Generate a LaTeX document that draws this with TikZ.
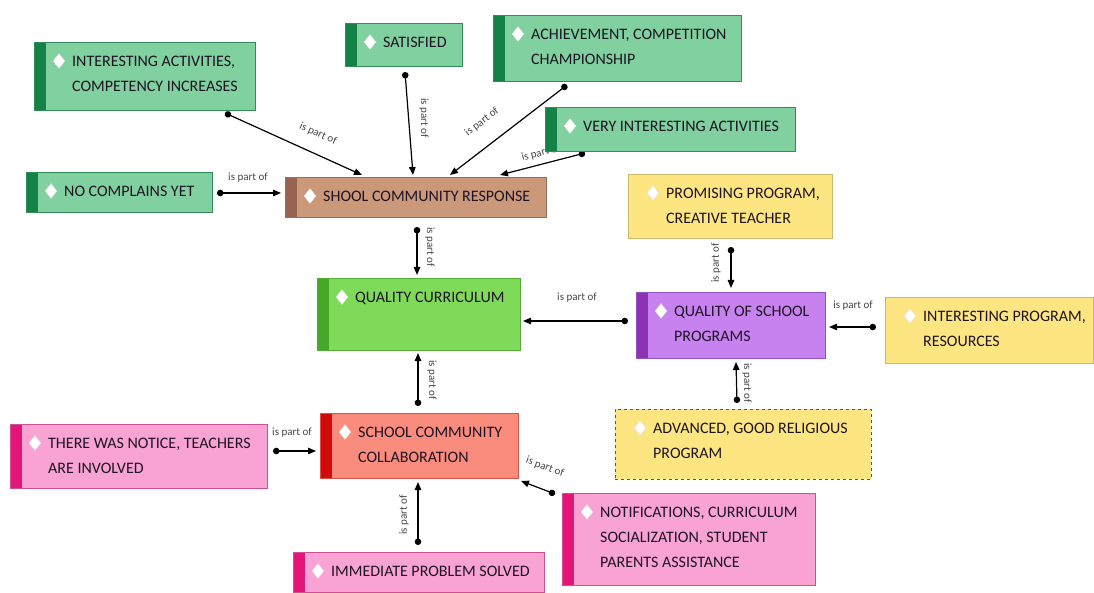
\documentclass[tikz,border=0pt]{standalone}
\usepackage{fontspec}
\setmainfont{Carlito}
\usetikzlibrary{arrows.meta,calc,shapes.geometric}
\pgfdeclarelayer{background}
\pgfsetlayers{background,main}

\definecolor{gfill}{RGB}{128,208,160}
\definecolor{gbar}{RGB}{20,130,70}
\definecolor{gline}{RGB}{50,140,90}
\definecolor{bfill}{RGB}{204,152,122}
\definecolor{bbar}{RGB}{150,100,80}
\definecolor{bline}{RGB}{150,110,90}
\definecolor{yfill}{RGB}{253,230,130}
\definecolor{ybar}{RGB}{247,180,10}
\definecolor{yline}{RGB}{205,185,110}
\definecolor{qfill}{RGB}{126,218,88}
\definecolor{qbar}{RGB}{70,168,40}
\definecolor{qline}{RGB}{80,175,50}
\definecolor{pfill}{RGB}{200,130,240}
\definecolor{pbar}{RGB}{140,50,180}
\definecolor{pline}{RGB}{150,80,190}
\definecolor{sfill}{RGB}{250,140,125}
\definecolor{sbar}{RGB}{210,10,10}
\definecolor{sline}{RGB}{220,80,70}
\definecolor{kfill}{RGB}{249,162,212}
\definecolor{kbar}{RGB}{228,20,120}
\definecolor{kline}{RGB}{205,80,150}
\definecolor{lbl}{RGB}{70,70,70}
\definecolor{txtc}{RGB}{30,20,35}

\tikzset{
  cbox/.style n args={3}{rectangle, fill=#1, #3, line width=0.9pt, inner sep=0pt, outer sep=0pt,
    path picture={\fill[#2] (path picture bounding box.north west) rectangle ([xshift=12pt]path picture bounding box.south west);}},
  btext/.style={anchor=north west, inner sep=0pt, align=left, text=txtc, font=\fontsize{16}{25}\selectfont},
  dmd/.style={diamond, aspect=0.8, minimum width=12pt, minimum height=15pt, inner sep=0pt, fill=white, draw=gray!25, line width=0.4pt},
  link/.style={line width=1.2pt, black, {Circle[length=6.5pt]}-{Triangle[length=8pt,width=6.5pt]}},
  lab/.style={font=\fontsize{11}{11}\selectfont, text=lbl, inner sep=1pt},
}

\newcommand\mkbox[9]{%
  \pgfmathsetmacro\bxw{#4-#2}\pgfmathsetmacro\bxh{#5-#3}%
  \node[cbox={#6}{#7}{#8}, minimum width=\bxw pt, minimum height=\bxh pt] (#1) at ({(#2+#4)/2},{(#3+#5)/2}) {};
  \node[dmd] (#1-d) at ($(#1.north west)+(25,19)$) {};
  \node[btext] (#1-t) at ($(#1.north west)+(38,14)$) {#9};
}

\begin{document}
\begin{tikzpicture}[x=1pt,y=-1pt]
\useasboundingbox (0,0) rectangle (1094,593);

\mkbox{ia}{34}{42}{255}{110}{gfill}{gbar}{draw=gline}{INTERESTING ACTIVITIES,\\COMPETENCY INCREASES}
\mkbox{sat}{345}{23}{462}{66}{gfill}{gbar}{draw=gline}{SATISFIED}
\mkbox{ach}{493}{15}{741}{81}{gfill}{gbar}{draw=gline}{ACHIEVEMENT, COMPETITION\\CHAMPIONSHIP}
\mkbox{very}{545}{107}{795}{151}{gfill}{gbar}{draw=gline}{VERY INTERESTING ACTIVITIES}
\mkbox{nc}{26}{172}{212}{212}{gfill}{gbar}{draw=gline}{NO COMPLAINS YET}
\mkbox{scr}{285}{177}{546}{217}{bfill}{bbar}{draw=bline}{SHOOL COMMUNITY RESPONSE}
\mkbox{prom}{628}{174}{832}{238}{yfill}{ybar}{draw=yline}{PROMISING PROGRAM,\\CREATIVE TEACHER}
\mkbox{qc}{317}{278}{520}{350}{qfill}{qbar}{draw=qline}{QUALITY CURRICULUM}
\mkbox{qsp}{636}{292}{825}{358}{pfill}{pbar}{draw=pline}{QUALITY OF SCHOOL\\PROGRAMS}
\mkbox{ip}{885}{297}{1093}{363}{yfill}{ybar}{draw=yline}{INTERESTING PROGRAM,\\RESOURCES}
\mkbox{adv}{615}{409}{871}{479}{yfill}{ybar}{draw=black!65, dashed}{ADVANCED, GOOD RELIGIOUS\\PROGRAM}
\mkbox{notice}{10}{424}{267}{488}{kfill}{kbar}{draw=kline}{THERE WAS NOTICE, TEACHERS\\ARE INVOLVED}
\mkbox{scc}{320}{413}{518}{478}{sfill}{sbar}{draw=sline}{SCHOOL COMMUNITY\\COLLABORATION}
\mkbox{notif}{562}{493}{815}{585}{kfill}{kbar}{draw=kline}{NOTIFICATIONS, CURRICULUM\\SOCIALIZATION, STUDENT\\PARENTS ASSISTANCE}
\mkbox{imm}{293}{552}{544}{592}{kfill}{kbar}{draw=kline}{IMMEDIATE PROBLEM SOLVED}

\begin{pgfonlayer}{background}
\fill[white] (0,0) rectangle (1094,593);
\draw[link] ($(ia.south west)+(191,3)$) -- ($(scr.north west)+(77,-2)$);
\draw[link] ($(sat.south west)+(60,6)$) -- ($(scr.north west)+(128,-2)$);
\draw[link] ($(ach.south west)+(74,4)$) -- ($(scr.north west)+(165,-2)$);
\draw[link] ($(very.south west)+(40,2)$) -- ($(scr.north west)+(215,-2)$);
\draw[link] ($(nc.north east)+(5,21)$) -- ($(scr.north west)+(-4,16)$);
\draw[link] ($(scr.south west)+(132,10)$) -- ($(qc.north west)+(100,-3)$);
\draw[link] ($(qsp.north west)+(-8,29)$) -- ($(qc.north east)+(3,43)$);
\draw[link] ($(prom.south west)+(103,9)$) -- ($(qsp.north west)+(95,-4)$);
\draw[link] ($(ip.north west)+(-9,30)$) -- ($(qsp.north east)+(4,35)$);
\draw[link] ($(adv.north west)+(122,-6)$) -- ($(qsp.south west)+(100,4)$);
\draw[link] ($(scc.north west)+(98,-7)$) -- ($(qc.south west)+(101,3)$);
\draw[link] ($(notice.north east)+(6,27)$) -- ($(scc.north west)+(-4,38)$);
\draw[link] ($(notif.north west)+(-7,1)$) -- ($(scc.south east)+(3,3)$);
\draw[link] ($(imm.north west)+(125,-7)$) -- ($(scc.south west)+(98,4)$);

\node[lab, rotate=-24] (l1) at (318,134) {is part of};
\node[lab, rotate=-90] (l2) at (424,118) {is part of};
\node[lab, rotate=38] (l3) at (482,122) {is part of};
\node[lab, rotate=15] (l4) at (541,153) {is part of};
\node[lab] (l5) at (248,178) {is part of};
\node[lab, rotate=-90] (l6) at (430,247) {is part of};
\node[lab] (l7) at (577,298) {is part of};
\node[lab, rotate=90] (l8) at (716,263) {is part of};
\node[lab] (l9) at (853,306) {is part of};
\node[lab, rotate=-90] (l10) at (747,383) {is part of};
\node[lab, rotate=-90] (l11) at (432,380) {is part of};
\node[lab] (l12) at (292,433) {is part of};
\node[lab, rotate=-20] (l13) at (545,467) {is part of};
\node[lab, rotate=90] (l14) at (404,515) {is part of};
\end{pgfonlayer}
\end{tikzpicture}
\end{document}
